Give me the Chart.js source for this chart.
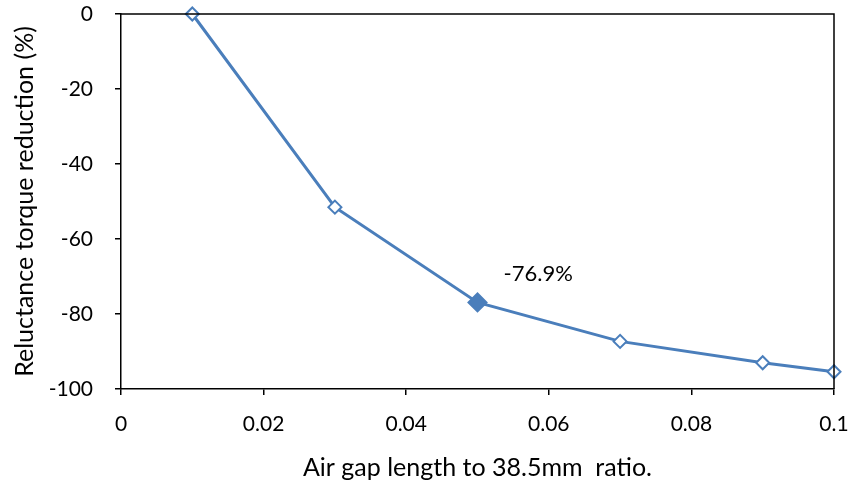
<!DOCTYPE html>
<html>
<head>
<meta charset="utf-8">
<script src="https://cdn.jsdelivr.net/npm/chart.js@4.4.1/dist/chart.umd.min.js"></script>
<style>
  html,body{margin:0;padding:0;background:#fff;}
  #wrap{width:854px;height:483px;position:relative;}
</style>
</head>
<body>
<div id="wrap"><canvas id="c" width="854" height="483"></canvas></div>
<script>
// values
const gapRatio = [0.01, 0.03, 0.05, 0.07, 0.09, 0.1];
const torqueReduction = [0, -51.5, -76.9, -87.3, -93.0, -95.4];
const highlightIdx = 2;
const highlightLabel = '-76.9%';
const xTitle = 'Air gap length to 38.5mm  ratio.';
const yTitle = 'Reluctance torque reduction (%)';

const BLUE = '#4A7EBB';
const FONT = "Lato, 'Noto Sans', sans-serif";

// box around the plot area (top and right edges)
const frame = {
  id:'frame',
  afterDraw(chart){
    const {ctx,chartArea:a}=chart;
    ctx.save();
    ctx.strokeStyle='#000';ctx.lineWidth=1.5;
    ctx.beginPath();
    ctx.moveTo(a.left,a.top);ctx.lineTo(a.right,a.top);ctx.lineTo(a.right,a.bottom);
    ctx.stroke();
    ctx.restore();
  }
};

// text next to the highlighted point
const pointLabel = {
  id:'pointLabel',
  afterDatasetsDraw(chart){
    const pt=chart.getDatasetMeta(0).data[highlightIdx];
    const ctx=chart.ctx;
    ctx.save();
    ctx.font='22px '+FONT;
    ctx.fillStyle='#000';
    ctx.textBaseline='middle';
    ctx.fillText(highlightLabel,pt.x+26,pt.y-28);
    ctx.restore();
  }
};

new Chart(document.getElementById('c'),{
  type:'line',
  data:{datasets:[{
    data:gapRatio.map((x,i)=>({x,y:torqueReduction[i]})),
    borderColor:BLUE,borderWidth:3,
    pointStyle:'rectRot',
    pointRadius:ctx=>ctx.dataIndex===highlightIdx?9:6.5,
    pointBackgroundColor:ctx=>ctx.dataIndex===highlightIdx?BLUE:'#fff',
    pointBorderColor:BLUE,pointBorderWidth:2,
    tension:0,clip:false
  }]},
  options:{
    responsive:false,animation:false,
    layout:{padding:{top:14,right:20,left:0,bottom:0}},
    plugins:{legend:{display:false},tooltip:{enabled:false}},
    scales:{
      x:{
        type:'linear',min:0,max:0.1,
        ticks:{stepSize:0.02,color:'#000',font:{family:FONT,size:21},padding:17,
          callback:v=>+v.toFixed(2)+''},
        grid:{drawOnChartArea:false,drawTicks:true,tickLength:6,color:'#000',lineWidth:1.5},
        border:{color:'#000',width:1.5},
        title:{display:true,text:xTitle,color:'#000',font:{family:FONT,size:25},padding:{top:4,bottom:0}},
        afterFit(s){s.height=94;s.paddingLeft=0;s.paddingRight=0;}
      },
      y:{
        min:-100,max:0,
        ticks:{stepSize:20,color:'#000',font:{family:FONT,size:21},padding:22},
        grid:{drawOnChartArea:false,drawTicks:true,tickLength:6,color:'#000',lineWidth:1.5},
        border:{color:'#000',width:1.5},
        title:{display:true,text:yTitle,color:'#000',font:{family:FONT,size:25},padding:{top:10,bottom:0}},
        afterFit(s){s.width=121;s.paddingTop=0;s.paddingBottom=0;}
      }
    }
  },
  plugins:[frame,pointLabel]
});
</script>
</body>
</html>
